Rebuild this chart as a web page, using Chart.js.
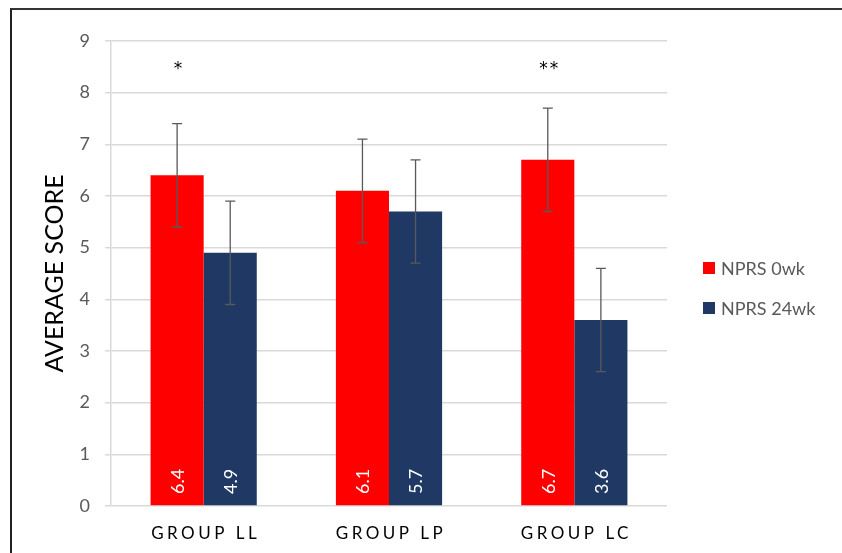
<!DOCTYPE html>
<html>
<head>
<meta charset="utf-8">
<script src="https://cdn.jsdelivr.net/npm/chart.js@4/dist/chart.umd.min.js"></script>
<style>
  body { margin: 0; background: #fff; }
  #wrap { position: relative; width: 842px; height: 553px; }
  #frame { position: absolute; left: 10px; top: 8px; width: 900px; height: 600px;
           border-left: 2px solid #222; border-top: 2px solid #333; pointer-events: none; }
</style>
</head>
<body>
<div id="wrap">
  <canvas id="chart" width="842" height="553"></canvas>
  <div id="frame"></div>
</div>
<script>
// Data
const groups = ['GROUP LL', 'GROUP LP', 'GROUP LC'];
const nprs0wk = [6.4, 6.1, 6.7];
const nprs24wk = [4.9, 5.7, 3.6];
const err0wk = [1, 1, 1];
const err24wk = [1, 1, 1];
const sigMarks = ['*', '', '**'];
const sigLevel = 8.5;
const yTicks = [0, 1, 2, 3, 4, 5, 6, 7, 8, 9];

const FONT = 'Lato, Carlito, "Open Sans", sans-serif';
Chart.defaults.font.family = FONT;

const errors = [err0wk, err24wk];

// error bars, value labels, significance marks, x labels, legend
const extras = {
    id: 'extras',
    afterDatasetsDraw(chart) {
        const ctx = chart.ctx;
        const y = chart.scales.y;
        const x = chart.scales.x;

        chart.data.datasets.forEach((ds, di) => {
            const meta = chart.getDatasetMeta(di);
            meta.data.forEach((bar, i) => {
                const v = ds.data[i];
                // value label, rotated, at the base of the bar
                ctx.save();
                ctx.translate(bar.x, y.getPixelForValue(0) - 12);
                ctx.rotate(-Math.PI / 2);
                ctx.fillStyle = '#fff';
                ctx.font = '18px ' + FONT;
                ctx.textAlign = 'left';
                ctx.textBaseline = 'middle';
                ctx.fillText(v.toFixed(1), 0, 1);
                ctx.restore();

                // error bar
                const e = errors[di][i];
                const top = y.getPixelForValue(v + e);
                const bot = y.getPixelForValue(v - e);
                ctx.save();
                ctx.strokeStyle = '#595959';
                ctx.lineWidth = 1.3;
                ctx.beginPath();
                ctx.moveTo(bar.x, top); ctx.lineTo(bar.x, bot);
                ctx.moveTo(bar.x - 5, top); ctx.lineTo(bar.x + 5, top);
                ctx.moveTo(bar.x - 5, bot); ctx.lineTo(bar.x + 5, bot);
                ctx.stroke();
                ctx.restore();
            });
        });

        // significance marks over the 0wk bars
        const redMeta = chart.getDatasetMeta(0);
        ctx.save();
        ctx.fillStyle = '#000';
        ctx.font = '17px "DejaVu Sans", sans-serif';
        ctx.letterSpacing = '2px';
        ctx.textAlign = 'center';
        ctx.textBaseline = 'middle';
        sigMarks.forEach((m, i) => {
            if (!m) return;
            ctx.fillText(m, redMeta.data[i].x + 2, y.getPixelForValue(sigLevel) + 3);
        });
        ctx.restore();

        // category labels, spaced out
        ctx.save();
        ctx.fillStyle = '#000';
        ctx.font = '17px ' + FONT;
        ctx.letterSpacing = '3.5px';
        ctx.textAlign = 'center';
        ctx.textBaseline = 'middle';
        groups.forEach((g, i) => {
            ctx.fillText(g, x.getPixelForValue(i) + 2, 534);
        });
        ctx.restore();

        // legend
        ctx.save();
        ctx.font = '18px ' + FONT;
        ctx.textBaseline = 'middle';
        chart.data.datasets.forEach((ds, di) => {
            const cy = 268 + di * 40;
            ctx.fillStyle = ds.backgroundColor;
            ctx.fillRect(703, cy - 6, 12, 12);
            ctx.fillStyle = '#595959';
            ctx.fillText(ds.label, 721, cy + 1);
        });
        ctx.restore();
    }
};

new Chart(document.getElementById('chart'), {
    type: 'bar',
    data: {
        labels: groups,
        datasets: [
            { label: 'NPRS 0wk', data: nprs0wk, backgroundColor: '#ff0000' },
            { label: 'NPRS 24wk', data: nprs24wk, backgroundColor: '#203864' }
        ]
    },
    options: {
        responsive: false,
        animation: false,
        datasets: { bar: { categoryPercentage: 0.573, barPercentage: 1 } },
        layout: { padding: { top: 41, right: 175, bottom: 47, left: 0 } },
        plugins: { legend: { display: false }, tooltip: { enabled: false } },
        scales: {
            x: { display: false },
            y: {
                min: 0, max: 9,
                afterBuildTicks: s => { s.ticks = yTicks.map(v => ({ value: v })); },
                afterFit: s => { s.width = 111; },
                ticks: { color: '#595959', font: { size: 18 }, padding: 15 },
                grid: { color: '#d9d9d9', lineWidth: 1.5, tickLength: 6 },
                border: { color: '#d9d9d9', width: 1.5 },
                title: {
                    display: true, text: 'AVERAGE SCORE', color: '#000',
                    font: { size: 25 }, padding: { top: 40, bottom: 0 }
                }
            }
        }
    },
    plugins: [extras]
});
</script>
</body>
</html>
